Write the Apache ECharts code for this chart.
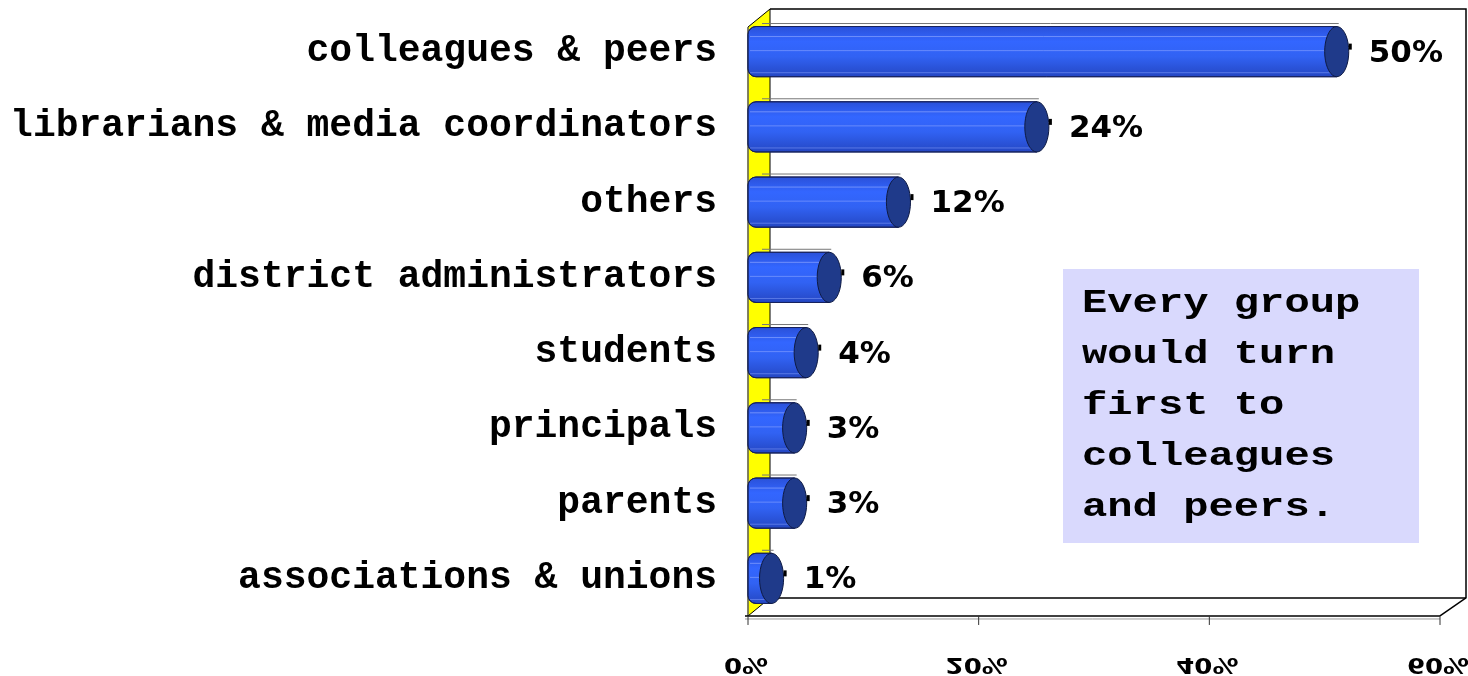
<!DOCTYPE html>
<html>
<head>
<meta charset="utf-8">
<script src="https://cdn.jsdelivr.net/npm/echarts@6/dist/echarts.min.js"></script>
<style>
html,body{margin:0;padding:0;background:#fff;}
#chart{width:1468px;height:676px;}
</style>
</head>
<body>
<div id="chart"></div>
<script>
const categories = ['colleagues & peers','librarians & media coordinators','others','district administrators','students','principals','parents','associations & unions'];
const values = [50, 24, 12, 6, 4, 3, 3, 1];
const xTicks = [0, 20, 40, 60];
const xTickLabels = ['0%', '20%', '40%', '60%'];
const noteLines = ['Every group', 'would turn', 'first to', 'colleagues', 'and peers.'];

const chart = echarts.init(document.getElementById('chart'), null, {renderer: 'canvas'});

function renderBar(params, api) {
  const v = api.value(0), i = api.value(1);
  const p0 = api.coord([0, i]);
  const p1 = api.coord([v, i]);
  const band = api.size([0, 1])[1];
  const h = band * 0.667;
  const x0 = p0[0], x1 = p1[0], yc = p0[1];
  const rx = h * 0.24;
  const cx = x1 + rx;
  const pts = [];
  for (let k = 0; k < 36; k++) {
    const t = k / 36 * Math.PI * 2;
    pts.push([cx + rx * Math.cos(t), yc + h / 2 * Math.sin(t)]);
  }
  const children = [
    {type: 'line', shape: {x1: x0 + 14, y1: yc - h / 2 - 3, x2: cx + 2, y2: yc - h / 2 - 3},
     style: {stroke: '#777', lineWidth: 1}},
    {type: 'rect', shape: {x: x0, y: yc - h / 2, width: cx - x0, height: h, r: [8, 0, 0, 8]},
     style: {fill: new echarts.graphic.LinearGradient(0, 0, 0, 1, [
        {offset: 0, color: '#2a50d8'}, {offset: 0.3, color: '#3366ff'},
        {offset: 0.6, color: '#3162f3'}, {offset: 1, color: '#2446c2'}]),
       stroke: '#17225e', lineWidth: 1}},
    {type: 'line', shape: {x1: x0 + 2, y1: yc - h * 0.3, x2: cx, y2: yc - h * 0.3},
     style: {stroke: 'rgba(140,165,255,0.7)', lineWidth: 1}},
    {type: 'line', shape: {x1: x0 + 2, y1: yc - 1, x2: cx, y2: yc - 1},
     style: {stroke: 'rgba(140,165,255,0.6)', lineWidth: 1}},
    {type: 'line', shape: {x1: x0 + 2, y1: yc + h * 0.42, x2: cx, y2: yc + h * 0.42},
     style: {stroke: 'rgba(140,165,255,0.5)', lineWidth: 1}},
    {type: 'polygon', shape: {points: pts},
     style: {fill: '#1f3a8a', stroke: '#0e1a44', lineWidth: 1}},
    {type: 'rect', shape: {x: cx + rx, y: yc - 8, width: 3, height: 6}, style: {fill: '#000'}},
    {type: 'text', x: cx + rx + 20, y: yc + 2,
     style: {text: Math.round(v) + '%', fill: '#000', fontFamily: 'DejaVu Sans', fontWeight: 'bold',
       fontSize: 31, align: 'left', verticalAlign: 'middle'}}
  ];
  return {type: 'group', children: children};
}

chart.setOption({
  animation: false,
  backgroundColor: '#fff',
  grid: {left: 748, right: 28, top: 14, bottom: 60, containLabel: false},
  xAxis: {
    type: 'value', min: 0, max: 60, interval: 20,
    axisLine: {show: false}, axisTick: {show: false}, axisLabel: {show: false}, splitLine: {show: false}
  },
  yAxis: {
    type: 'category', data: categories, inverse: true,
    axisLine: {show: false}, axisTick: {show: false}, splitLine: {show: false},
    axisLabel: {color: '#000', fontFamily: 'Liberation Mono', fontWeight: 'bold', fontSize: 38, margin: 31}
  },
  series: [{
    type: 'custom', renderItem: renderBar, z: 5,
    encode: {x: 0, y: 1},
    data: values.map((v, i) => [v, i])
  }]
});

// 3D frame & flipped tick labels, positioned from the axes
const gl = chart.convertToPixel({xAxisIndex: 0}, 0);
const gr = chart.convertToPixel({xAxisIndex: 0}, 60);
const gt = chart.convertToPixel({yAxisIndex: 0}, 0) - 37.6;
const gb = chart.convertToPixel({yAxisIndex: 0}, categories.length - 1) + 37.6;
const dx = 22, dy = 18;
const frontTop = gt + 13, backTop = gt - 5;
const frontBot = gb, backBot = gb - dy;

const g = [];
g.push({type: 'polyline', z: 0, shape: {points: [[gl + dx, backTop], [gr + dx + 4, backTop], [gr + dx + 4, backBot], [gr, frontBot]]},
  style: {stroke: '#000', lineWidth: 1.5, fill: null}});
g.push({type: 'line', z: 0, shape: {x1: gl + dx, y1: backBot, x2: gr + dx + 4, y2: backBot}, style: {stroke: '#000', lineWidth: 1.5}});
g.push({type: 'polygon', z: 0, shape: {points: [[gl, frontTop], [gl + dx, backTop], [gl + dx, backBot], [gl, frontBot]]},
  style: {fill: '#ffff00', stroke: '#000', lineWidth: 1}});
g.push({type: 'line', z: 0, shape: {x1: gl, y1: frontTop, x2: gl, y2: frontBot}, style: {stroke: '#808060', lineWidth: 1.5}});
g.push({type: 'line', z: 0, shape: {x1: gl - 3, y1: frontBot, x2: gr, y2: frontBot}, style: {stroke: '#000', lineWidth: 1.5}});
g.push({type: 'line', z: 0, shape: {x1: gl - 3, y1: frontBot + 3, x2: gr, y2: frontBot + 3}, style: {stroke: '#999', lineWidth: 1}});
xTicks.forEach((t, k) => {
  const x = chart.convertToPixel({xAxisIndex: 0}, t);
  g.push({type: 'line', z: 0, shape: {x1: x, y1: frontBot, x2: x, y2: frontBot + 9}, style: {stroke: '#333', lineWidth: 1}});
  g.push({type: 'text', z: 0, x: x - 2, y: frontBot + 47, scaleY: -0.8,
    style: {text: xTickLabels[k], fill: '#000', fontFamily: 'DejaVu Sans', fontWeight: 'bold', fontSize: 26,
      align: 'center', verticalAlign: 'middle'}});
});
g.push({type: 'rect', z: 10, shape: {x: 1063, y: 269, width: 356, height: 274}, style: {fill: '#d9d9fd'}});
g.push({type: 'text', z: 11, x: 1082, y: 278, scaleX: 1.24,
  style: {text: noteLines.join('\n'), fill: '#000', fontFamily: 'Liberation Mono', fontWeight: 'bold',
    fontSize: 34, lineHeight: 51, align: 'left', verticalAlign: 'top'}});

chart.setOption({graphic: g});
</script>
</body>
</html>
